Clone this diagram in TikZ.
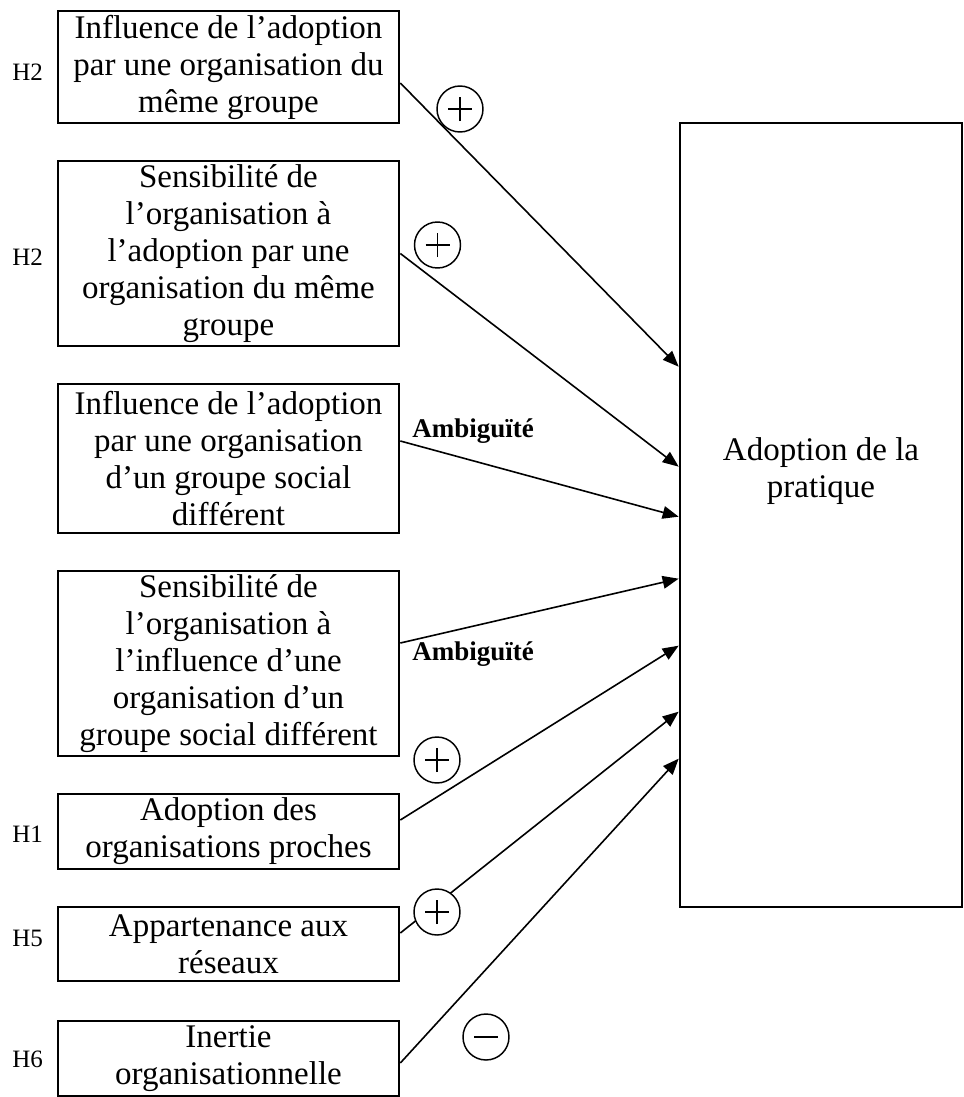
\documentclass[tikz,border=0pt]{standalone}
\usepackage{fontspec}
\setmainfont{Liberation Serif}
\usetikzlibrary{arrows.meta,calc}
\begin{document}
\begin{tikzpicture}[x=0.75pt,y=-0.75pt,
  box/.style={draw, line width=2pt, rectangle, minimum width=255.75pt, align=center, inner sep=2pt,
    font=\fontsize{24.75}{27.75}\selectfont},
  bigbox/.style={draw, line width=2pt, rectangle, minimum width=211.5pt, minimum height=588pt},
  btext/.style={align=center, font=\fontsize{24.75}{27.75}\selectfont},
  hlab/.style={anchor=west, inner sep=0pt, font=\fontsize{18.75}{20}\selectfont},
  amb/.style={anchor=west, inner sep=0pt, font=\fontsize{20.25}{22}\selectfont\bfseries},
  conn/.style={line width=1.2pt, -{Triangle[length=12pt,width=9.5pt]}},
  signcirc/.style={circle, draw, fill=white, line width=1.1pt, minimum size=34.5pt, inner sep=0pt},
  plussign/.style={signcirc, path picture={
    \draw[line width=1.1pt] ([xshift=-9pt]path picture bounding box.center) -- ([xshift=9pt]path picture bounding box.center)
      ([yshift=-9pt]path picture bounding box.center) -- ([yshift=9pt]path picture bounding box.center);}},
  minussign/.style={signcirc, path picture={
    \draw[line width=1.1pt] ([xshift=-9pt]path picture bounding box.center) -- ([xshift=9pt]path picture bounding box.center);}}
]
\useasboundingbox (0,0) rectangle (964,1097);

% left boxes
\node[box, minimum height=84pt] (b1) at (228.5,67) {Influence de l’adoption\\par une organisation du\\même groupe};
\node[box, minimum height=138.75pt] (b2) at (228.5,253.5) {Sensibilité de\\l’organisation à\\l’adoption par une\\organisation du même\\groupe};
\node[box, minimum height=111.75pt] (b3) at (228.5,458.5) {Influence de l’adoption\\par une organisation\\d’un groupe social\\différent};
\node[box, minimum height=138.75pt] (b4) at (228.5,663.5) {Sensibilité de\\l’organisation à\\l’influence d’une\\organisation d’un\\groupe social différent};
\node[box, minimum height=56.25pt] (b5) at (228.5,831.5) {Adoption des\\organisations proches};
\node[box, minimum height=55.5pt] (b6) at (228.5,944) {Appartenance aux\\réseaux};
\node[box, minimum height=56.25pt] (b7) at (228.5,1058.5) {Inertie\\organisationnelle};

% right box
\node[bigbox] (R) at (821,515) {};
\node[btext] (Rt) at (821,471) {Adoption de la\\pratique};

% hypothesis labels
\node[hlab] (h1) at (12,72) {H2};
\node[hlab] (h2) at (12,257) {H2};
\node[hlab] (h3) at (12,834) {H1};
\node[hlab] (h4) at (12,938) {H5};
\node[hlab] (h5) at (12,1059) {H6};

% ambiguity labels
\node[amb] (am1) at (412,431) {Ambiguïté};
\node[amb] (am2) at (412,654) {Ambiguïté};

% connectors
\draw[conn] ($(b1.east)+(0,16)$) -- ($(R.north west)+(0,245)$);
\draw[conn] ($(b2.east)+(0,0)$) -- ($(R.north west)+(0,345)$);
\draw[conn] ($(b3.east)+(0,-17.5)$) -- ($(R.north west)+(0,395)$);
\draw[conn] ($(b4.east)+(0,-20.5)$) -- ($(R.north west)+(0,457)$);
\draw[conn] ($(b5.east)+(0,-11.5)$) -- ($(R.north west)+(0,524)$);
\draw[conn] ($(b6.east)+(0,-11)$) -- ($(R.north west)+(0,590)$);
\draw[conn] ($(b7.east)+(0,4.5)$) -- ($(R.north west)+(0,637)$);

% sign circles
\node[plussign] (p1) at (460,109) {};
\node[plussign] (p2) at (437.5,245) {};
\node[plussign] (p3) at (437,760) {};
\node[plussign] (p4) at (437,912) {};
\node[minussign] (m1) at (486,1037) {};
\end{tikzpicture}
\end{document}
